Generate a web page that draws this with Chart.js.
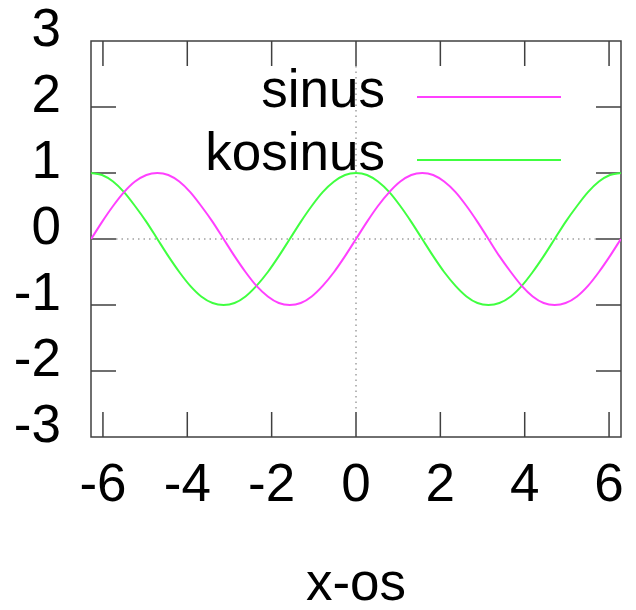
<!DOCTYPE html>
<html>
<head>
<meta charset="utf-8">
<script src="https://cdn.jsdelivr.net/npm/chart.js@4/dist/chart.umd.min.js"></script>
<style>
  html, body { margin: 0; padding: 0; background: #fff; }
  #wrap { width: 636px; height: 610px; }
</style>
</head>
<body>
<div id="wrap"><canvas id="chart" width="636" height="610"></canvas></div>
<script>
// values
const xValues = [-6.28, -6.02, -5.76, -5.50, -5.24, -4.97, -4.71, -4.45, -4.19, -3.93, -3.67, -3.40,
  -3.14, -2.88, -2.62, -2.36, -2.09, -1.83, -1.57, -1.31, -1.05, -0.79, -0.52, -0.26,
  0, 0.26, 0.52, 0.79, 1.05, 1.31, 1.57, 1.83, 2.09, 2.36, 2.62, 2.88,
  3.14, 3.40, 3.67, 3.93, 4.19, 4.45, 4.71, 4.97, 5.24, 5.50, 5.76, 6.02, 6.28];
const sinusValues = [0, 0.26, 0.5, 0.71, 0.87, 0.97, 1, 0.97, 0.87, 0.71, 0.5, 0.26,
  0, -0.26, -0.5, -0.71, -0.87, -0.97, -1, -0.97, -0.87, -0.71, -0.5, -0.26,
  0, 0.26, 0.5, 0.71, 0.87, 0.97, 1, 0.97, 0.87, 0.71, 0.5, 0.26,
  0, -0.26, -0.5, -0.71, -0.87, -0.97, -1, -0.97, -0.87, -0.71, -0.5, -0.26, 0];
const kosinusValues = [1, 0.97, 0.87, 0.71, 0.5, 0.26, 0, -0.26, -0.5, -0.71, -0.87, -0.97,
  -1, -0.97, -0.87, -0.71, -0.5, -0.26, 0, 0.26, 0.5, 0.71, 0.87, 0.97,
  1, 0.97, 0.87, 0.71, 0.5, 0.26, 0, -0.26, -0.5, -0.71, -0.87, -0.97,
  -1, -0.97, -0.87, -0.71, -0.5, -0.26, 0, 0.26, 0.5, 0.71, 0.87, 0.97, 1];
const xTicks = [-6, -4, -2, 0, 2, 4, 6];
const yTicks = [-3, -2, -1, 0, 1, 2, 3];
const seriesNames = ['sinus', 'kosinus'];
const xTitle = 'x-os';

const FONT = '"Liberation Sans", Arial, sans-serif';
const AXIS = '#404040';

const toPoints = (ys) => xValues.map((x, i) => ({ x: x, y: ys[i] }));

// gnuplot style frame: border, inward ticks, dotted zero axes
const framePlugin = {
  id: 'frame',
  beforeDatasetsDraw(chart) {
    const { ctx, chartArea: a, scales: { x, y } } = chart;
    const tl = 25;
    ctx.save();
    // zero axes
    ctx.strokeStyle = '#a0a0a0';
    ctx.lineWidth = 1.5;
    ctx.setLineDash([1.5, 4]);
    const x0 = x.getPixelForValue(0), y0 = y.getPixelForValue(0);
    ctx.beginPath();
    ctx.moveTo(a.left + tl, y0); ctx.lineTo(a.right - tl, y0);
    ctx.moveTo(x0, a.top + tl); ctx.lineTo(x0, a.bottom - tl);
    ctx.stroke();
    ctx.setLineDash([]);
    // ticks
    ctx.strokeStyle = AXIS;
    ctx.lineWidth = 1.5;
    ctx.beginPath();
    xTicks.forEach(v => {
      const px = x.getPixelForValue(v);
      ctx.moveTo(px, a.bottom); ctx.lineTo(px, a.bottom - tl);
      ctx.moveTo(px, a.top); ctx.lineTo(px, a.top + tl);
    });
    yTicks.forEach(v => {
      if (v === -3 || v === 3) return;
      const py = y.getPixelForValue(v);
      ctx.moveTo(a.left, py); ctx.lineTo(a.left + tl, py);
      ctx.moveTo(a.right, py); ctx.lineTo(a.right - tl, py);
    });
    ctx.stroke();
    ctx.strokeRect(a.left, a.top, a.right - a.left, a.bottom - a.top);
    ctx.restore();
  }
};

// legend: text right aligned, line sample to the right
const keyPlugin = {
  id: 'key',
  afterDatasetsDraw(chart) {
    const ctx = chart.ctx;
    ctx.save();
    ctx.font = '53px ' + FONT;
    ctx.textAlign = 'right';
    ctx.textBaseline = 'alphabetic';
    chart.data.datasets.forEach((ds, i) => {
      const ly = 97 + i * 63;
      ctx.fillStyle = '#000';
      ctx.fillText(ds.label, 385, ly + 10);
      ctx.strokeStyle = ds.borderColor;
      ctx.lineWidth = 2;
      ctx.beginPath();
      ctx.moveTo(417, ly); ctx.lineTo(561, ly);
      ctx.stroke();
    });
    ctx.restore();
  }
};

new Chart(document.getElementById('chart'), {
  type: 'line',
  data: {
    datasets: [
      { label: seriesNames[0], data: toPoints(sinusValues), borderColor: '#ff40ff', borderWidth: 2, pointRadius: 0, tension: 0.3 },
      { label: seriesNames[1], data: toPoints(kosinusValues), borderColor: '#40ff40', borderWidth: 2, pointRadius: 0, tension: 0.3 }
    ]
  },
  options: {
    responsive: false,
    animation: false,
    layout: { padding: { top: 41, right: 15, left: 0, bottom: 0 } },
    plugins: { legend: { display: false }, tooltip: { enabled: false } },
    scales: {
      x: {
        type: 'linear',
        min: -6.2832,
        max: 6.2832,
        afterBuildTicks: (s) => { s.ticks = xTicks.map(v => ({ value: v })); },
        afterFit: (s) => { s.height = 173; s.paddingLeft = 0; s.paddingRight = 0; },
        grid: { display: false, drawTicks: false },
        border: { display: false },
        ticks: { autoSkip: false, maxRotation: 0, padding: 18, color: '#000', font: { family: FONT, size: 53 } },
        title: { display: true, text: xTitle, color: '#000', padding: { top: 0, bottom: -7 }, font: { family: FONT, size: 53 } }
      },
      y: {
        min: -3,
        max: 3,
        afterBuildTicks: (s) => { s.ticks = yTicks.map(v => ({ value: v })); },
        afterFit: (s) => { s.width = 91; s.paddingTop = 0; s.paddingBottom = 0; },
        grid: { display: false, drawTicks: false },
        border: { display: false },
        ticks: { autoSkip: false, padding: 30, labelOffset: -10, color: '#000', font: { family: FONT, size: 53 } }
      }
    }
  },
  plugins: [framePlugin, keyPlugin]
});
</script>
</body>
</html>
